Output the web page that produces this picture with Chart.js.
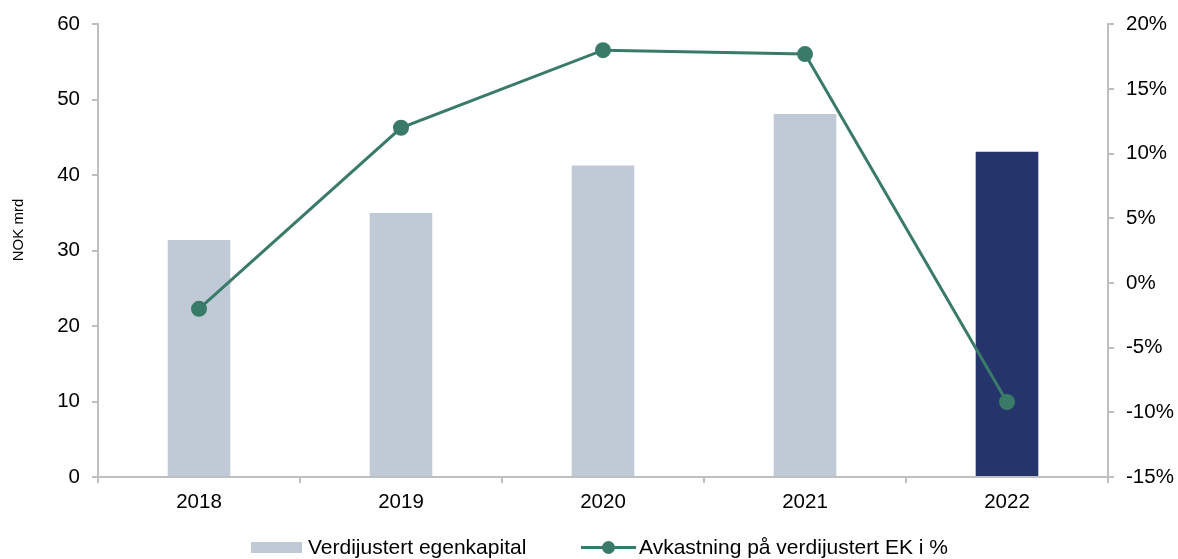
<!DOCTYPE html>
<html>
<head>
<meta charset="utf-8">
<script src="https://cdn.jsdelivr.net/npm/chart.js@4/dist/chart.umd.min.js"></script>
<style>
  body { margin: 0; background: #fff; font-family: "Liberation Sans", Arial, sans-serif; }
  #wrap { position: relative; width: 1178px; height: 559px; }
  #legend { position: absolute; left: 0; top: 533px; width: 1178px; height: 28px; font-size: 21px; color: #000; }
  .item { position: absolute; top: 0; display: flex; align-items: center; height: 28px; }
  .box { width: 51px; height: 11px; background: #BFCAD6; margin-right: 6px; }
  .ln { position: relative; width: 55px; height: 3px; background: #3A7A68; margin-right: 3px; }
  .ln::after { content: ""; position: absolute; left: 21px; top: -5px; width: 13px; height: 13px; border-radius: 50%; background: #3A7A68; }
</style>
</head>
<body>
<div id="wrap">
  <canvas id="chart" width="1178" height="559"></canvas>
  <div id="legend">
    <div class="item" style="left:251px"><span class="box"></span>Verdijustert egenkapital</div>
    <div class="item" style="left:581px"><span class="ln"></span>Avkastning på verdijustert EK i %</div>
  </div>
</div>
<script>
// ===== data =====
let years = ['2018','2019','2020','2021','2022'];
let egenkapital = [31.4, 35.0, 41.3, 48.1, 43.1];
let avkastning = [-2.0, 12.0, 18.0, 17.7, -9.2];
let barColors = ['#BFCAD6','#BFCAD6','#BFCAD6','#BFCAD6','#25356B'];

const axisGrey = '#BFBFBF';
const tickFont = { family: 'Liberation Sans', size: 20.5 };

// y axis title sits a bit above the middle in the original
const yTitle = {
    id: 'yTitle',
    afterDraw(chart){
        const c = chart.ctx;
        c.save();
        c.translate(19, 230);
        c.rotate(-Math.PI / 2);
        c.font = '15px "Liberation Sans"';
        c.fillStyle = '#000';
        c.textAlign = 'center';
        c.textBaseline = 'middle';
        c.fillText('NOK mrd', 0, 0);
        c.restore();
    }
};

const ctx = document.getElementById('chart').getContext('2d');
const myChart = new Chart(ctx, {
    type: 'bar',
    data: {
        labels: years,
        datasets: [
            {
                type: 'line',
                label: 'Avkastning på verdijustert EK i %',
                data: avkastning,
                yAxisID: 'y1',
                borderColor: '#3A7A68',
                backgroundColor: '#3A7A68',
                borderWidth: 3,
                pointRadius: 6.5,
                pointHoverRadius: 6.5,
                tension: 0,
                order: 0
            },
            {
                label: 'Verdijustert egenkapital',
                data: egenkapital,
                yAxisID: 'y',
                backgroundColor: barColors,
                barPercentage: 0.31,
                categoryPercentage: 1,
                order: 1
            }
        ]
    },
    options: {
        responsive: false,
        animation: false,
        layout: { padding: { top: 24, right: 0, left: 0, bottom: 0 } },
        plugins: {
            legend: { display: false },
            tooltip: { enabled: false }
        },
        scales: {
            x: {
                grid: { drawOnChartArea: false, drawTicks: true, tickLength: 6, color: axisGrey, lineWidth: 2, offset: true },
                border: { color: axisGrey, width: 2 },
                ticks: { color: '#000', padding: 7, font: tickFont },
                afterFit: function(scale){ scale.height = 82; }
            },
            y: {
                position: 'left',
                min: 0, max: 60,
                ticks: { stepSize: 10, color: '#000', padding: 12, font: tickFont },
                grid: { drawOnChartArea: false, drawTicks: true, tickLength: 6, color: axisGrey, lineWidth: 2 },
                border: { color: axisGrey, width: 2 },
                afterFit: function(scale){ scale.width = 98; }
            },
            y1: {
                position: 'right',
                min: -15, max: 20,
                ticks: { stepSize: 5, color: '#000', padding: 12, font: tickFont,
                    callback: function(v){ return v + '%'; } },
                grid: { drawOnChartArea: false, drawTicks: true, tickLength: 6, color: axisGrey, lineWidth: 2 },
                border: { color: axisGrey, width: 2 },
                afterFit: function(scale){ scale.width = 70; }
            }
        }
    },
    plugins: [yTitle]
});
</script>
</body>
</html>
